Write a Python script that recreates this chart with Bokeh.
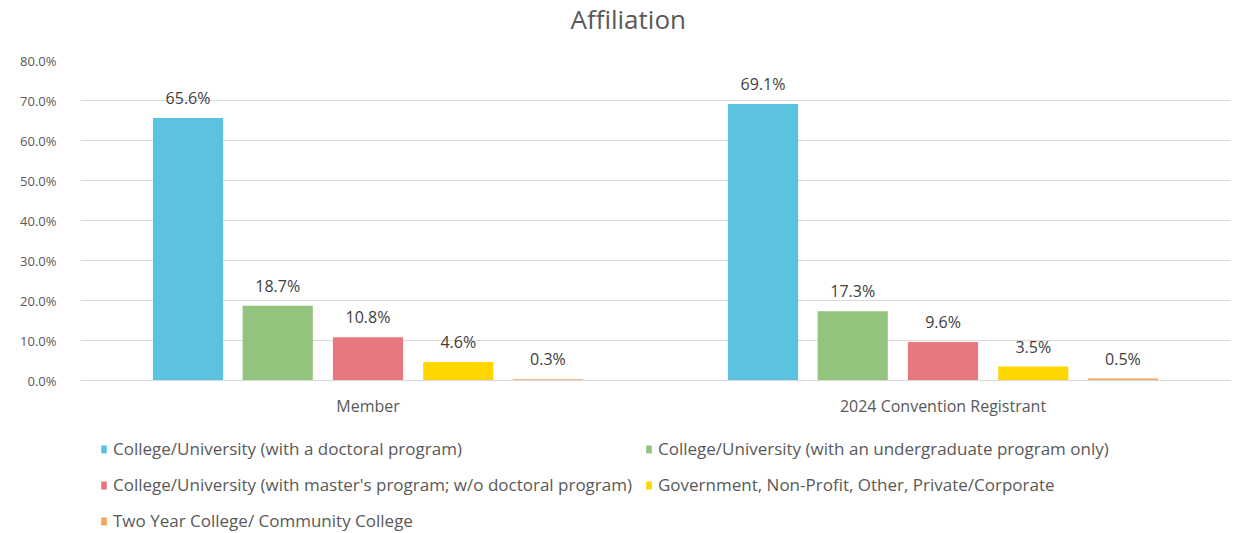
from bokeh.plotting import figure
from bokeh.layouts import column
from bokeh.models import (FixedTicker, NumeralTickFormatter, Legend, LegendItem,
                          ColumnDataSource, Title)
from bokeh.transform import dodge
from bokeh.core.properties import value
from bokeh.embed import file_html
from bokeh.resources import INLINE

groups = ["Member", "2024 Convention Registrant"]
series = [
    "College/University (with a doctoral program)",
    "College/University (with an undergraduate program only)",
    "College/University (with master's program; w/o doctoral program)",
    "Government, Non-Profit, Other, Private/Corporate",
    "Two Year College/ Community College",
]
doctoral = [0.656, 0.691]
undergrad = [0.187, 0.173]
masters = [0.108, 0.096]
government = [0.046, 0.035]
two_year = [0.003, 0.005]
values = [doctoral, undergrad, masters, government, two_year]
colors = ["#5bc2e0", "#93c47d", "#e8777f", "#ffd600", "#f7a35c"]
y_ticks = [0.0, 0.1, 0.2, 0.3, 0.4, 0.5, 0.6, 0.7, 0.8]

FONT = "Open Sans"
GRAY = "#595959"

p = figure(x_range=groups, y_range=(0, 0.8), frame_width=1150, frame_height=320,
           output_backend="svg", toolbar_location=None,
           min_border_left=80, min_border_right=4, min_border_top=0,
           min_border_bottom=45)
# blank spacer title next to the frame, real title above it
p.add_layout(Title(text=" ", text_font_size="2px", standoff=18), "above")
p.title = Title(text="Affiliation", text_font=FONT, text_font_size="26px",
                text_font_style="normal", text_color=GRAY, align="left",
                offset=490, standoff=0, vertical_align="top")

offsets = [-0.313, -0.157, 0.0, 0.157, 0.313]
for vals, col, off in zip(values, colors, offsets):
    src = ColumnDataSource(dict(x=groups, y=vals,
                                lab=[f"{v*100:.1f}%" for v in vals]))
    p.vbar(x=dodge("x", off, range=p.x_range), top="y", width=0.122,
           source=src, fill_color=col, line_color=None)
    p.text(x=dodge("x", off, range=p.x_range), y="y", text="lab", source=src,
           text_align="center", text_baseline="bottom", y_offset=-9,
           text_font=value(FONT), text_font_size="16px", text_color="#404040")

p.yaxis.ticker = FixedTicker(ticks=y_ticks)
p.yaxis.formatter = NumeralTickFormatter(format="0.0%")
p.yaxis.axis_line_color = None
p.yaxis.major_tick_line_color = None
p.yaxis.minor_tick_line_color = None
p.yaxis.major_label_text_font = FONT
p.yaxis.major_label_text_font_size = "13px"
p.yaxis.major_label_text_color = GRAY
p.yaxis.major_label_standoff = 18

p.xaxis.axis_line_color = "#d9d9d9"
p.xaxis.major_tick_line_color = None
p.xaxis.minor_tick_line_color = None
p.xaxis.major_label_text_font = FONT
p.xaxis.major_label_text_font_size = "16px"
p.xaxis.major_label_text_color = GRAY
p.xaxis.major_label_standoff = 8

p.xgrid.grid_line_color = None
p.ygrid.grid_line_color = "#d9d9d9"
p.outline_line_color = None

# legend area below the chart (its frame is aligned with the chart's frame)
lg = figure(width=1234, height=107, x_range=(0, 1), y_range=(0, 1),
            output_backend="svg", toolbar_location=None,
            x_axis_location=None, y_axis_location=None,
            min_border_left=0, min_border_right=0, min_border_top=0,
            min_border_bottom=0)
lg.grid.grid_line_color = None
lg.outline_line_color = None
swatches = []
for col in colors:
    # one point placed outside the visible range: only the legend swatch shows
    swatches.append(lg.vbar(x="x", top="top", width=0.1,
                            source=ColumnDataSource(dict(x=[5.0], top=[0.0])),
                            fill_color=col, line_color=None))

# legend is filled column by column: order so rows read like the reference
order = [0, 2, 4, 1, 3]
items = [LegendItem(label=series[i], renderers=[swatches[i]]) for i in order]
legend = Legend(items=items, ncols=2, location=(20, 0),
                label_text_font=FONT, label_text_font_size="17px",
                label_text_color=GRAY, glyph_width=7, glyph_height=10,
                label_height=23, spacing=13, label_standoff=6,
                margin=0, padding=0, border_line_color=None,
                background_fill_alpha=0)
lg.add_layout(legend, "center")

layout = column(p, lg, spacing=0)
open("out.html", "w").write(file_html(layout, INLINE))
